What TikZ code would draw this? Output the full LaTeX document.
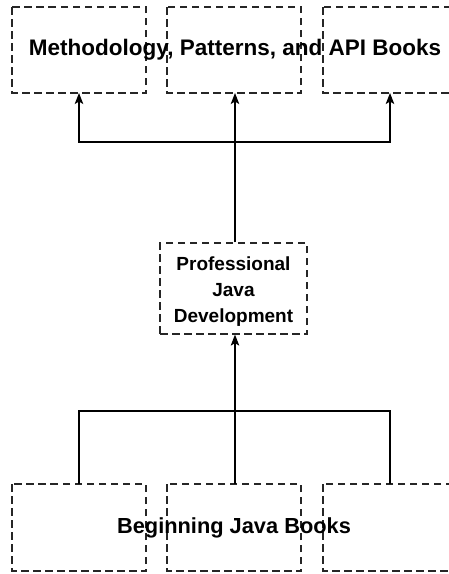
\documentclass[tikz,border=0pt]{standalone}
\usepackage{fontspec}
\setmainfont{Liberation Sans}
\usetikzlibrary{arrows.meta}
\begin{document}
\begin{tikzpicture}[x=1pt,y=-1pt,
  dbox/.style={draw=black!85,line width=1.2pt,dash pattern=on 7.5pt off 4.5pt},
  conn/.style={draw=black,line width=1.1pt},
  arr/.style={conn,-{Stealth[length=11pt,width=8.5pt,inset=2.5pt]}},
  big/.style={font=\fontsize{22.5}{26}\selectfont\bfseries},
  bigb/.style={font=\fontsize{21.8}{26}\selectfont\bfseries},
  mid/.style={font=\fontsize{19}{26}\selectfont\bfseries,align=center}]
\useasboundingbox (0,0) rectangle (449,574);
\clip (0,0) rectangle (449,574);
% top boxes
\draw[dbox] (12,7) rectangle (146,93);
\draw[dbox] (167,7) rectangle (301,93);
\draw[dbox] (323,7) rectangle (457,93);
\coordinate (t1) at (79,93);
\coordinate (t2) at (235,93);
\coordinate (t3) at (390,93);
% bottom boxes
\draw[dbox] (12,484) rectangle (146,571);
\draw[dbox] (167,484) rectangle (301,571);
\draw[dbox] (323,484) rectangle (457,571);
\coordinate (b1) at (79,484);
\coordinate (b2) at (235,484);
\coordinate (b3) at (390,484);
% middle
\node[dbox,minimum width=147pt,minimum height=91pt,inner sep=0pt] (pj) at (233.5,288.5) {};
\node[mid] (pjt) at (233.5,292) {Professional\\Java\\Development};
\node[big] (topt) at (235,50) {Methodology, Patterns, and API Books};
\node[bigb] (bott) at (234,528) {Beginning Java Books};
% connectors
\coordinate (hj) at (235,142);
\coordinate (lj) at (235,411);
\draw[conn] (pj.north -| hj) -- (hj);
\draw[arr] (hj) -- (t2);
\draw[arr] (hj) -| (t1);
\draw[arr] (hj) -| (t3);
\draw[arr] (b2) -- (pj.south -| b2);
\draw[conn] (b1) |- (lj) -| (b3);
\end{tikzpicture}
\end{document}
